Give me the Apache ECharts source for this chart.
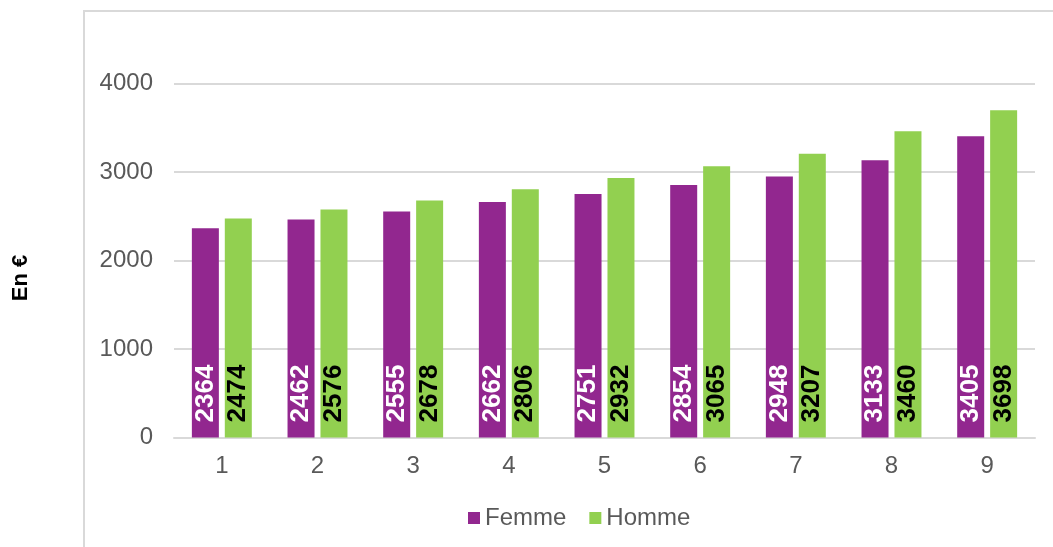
<!DOCTYPE html>
<html>
<head>
<meta charset="utf-8">
<script src="https://cdn.jsdelivr.net/npm/echarts@6/dist/echarts.min.js"></script>
<style>
  html, body { margin: 0; padding: 0; background: #fff; }
  #chart { width: 1053px; height: 547px; }
</style>
</head>
<body>
<div id="chart"></div>
<script>
// données
var categories = ['1', '2', '3', '4', '5', '6', '7', '8', '9'];
var femme = [2364, 2462, 2555, 2662, 2751, 2854, 2948, 3133, 3405];
var homme = [2474, 2576, 2678, 2806, 2932, 3065, 3207, 3460, 3698];
var yTicks = [0, 1000, 2000, 3000, 4000];

var FONT = '"Liberation Sans", Arial, sans-serif';
var chart = echarts.init(document.getElementById('chart'));

function barLabel(color) {
  return {
    show: true,
    position: 'insideBottom',
    rotate: 90,
    align: 'left',
    verticalAlign: 'middle',
    distance: 15,
    color: color,
    fontFamily: FONT,
    fontWeight: 'bold',
    fontSize: 26
  };
}

var option = {
  animation: false,
  backgroundColor: '#fff',
  textStyle: { fontFamily: FONT },
  grid: { left: 174, right: 18, top: 83.5, bottom: 109.5 },
  graphic: [
    {
      type: 'rect',
      shape: { x: 84, y: 11, width: 1000, height: 600 },
      style: { fill: 'none', stroke: '#d9d9d9', lineWidth: 2 },
      z: -1
    },
    {
      type: 'text',
      x: 21, y: 278,
      rotation: Math.PI / 2,
      style: {
        text: 'En €',
        fill: '#000',
        font: 'bold 22px ' + FONT,
        align: 'center',
        verticalAlign: 'middle'
      }
    }
  ],
  legend: {
    data: ['Femme', 'Homme'],
    left: 463,
    top: 501,
    itemWidth: 12,
    itemHeight: 12,
    itemGap: 23,
    icon: 'rect',
    textStyle: { color: '#595959', fontSize: 24, fontFamily: FONT }
  },
  xAxis: {
    type: 'category',
    data: categories,
    axisLine: { lineStyle: { color: '#d9d9d9', width: 2 } },
    axisTick: { show: false },
    axisLabel: { color: '#595959', fontSize: 24, margin: 17 }
  },
  yAxis: {
    type: 'value',
    min: yTicks[0],
    max: yTicks[yTicks.length - 1],
    interval: 1000,
    axisLine: { show: false },
    axisTick: { show: false },
    axisLabel: { color: '#595959', fontSize: 24, margin: 21, formatter: function (v) { return String(v); } },
    splitLine: { lineStyle: { color: '#d9d9d9', width: 2 } }
  },
  series: [
    {
      name: 'Femme',
      type: 'bar',
      data: femme,
      barWidth: 27,
      barGap: '22%',
      itemStyle: { color: '#92278f' },
      label: barLabel('#ffffff')
    },
    {
      name: 'Homme',
      type: 'bar',
      data: homme,
      barWidth: 27,
      itemStyle: { color: '#92d050' },
      label: barLabel('#000000')
    }
  ]
};

chart.setOption(option);
</script>
</body>
</html>
